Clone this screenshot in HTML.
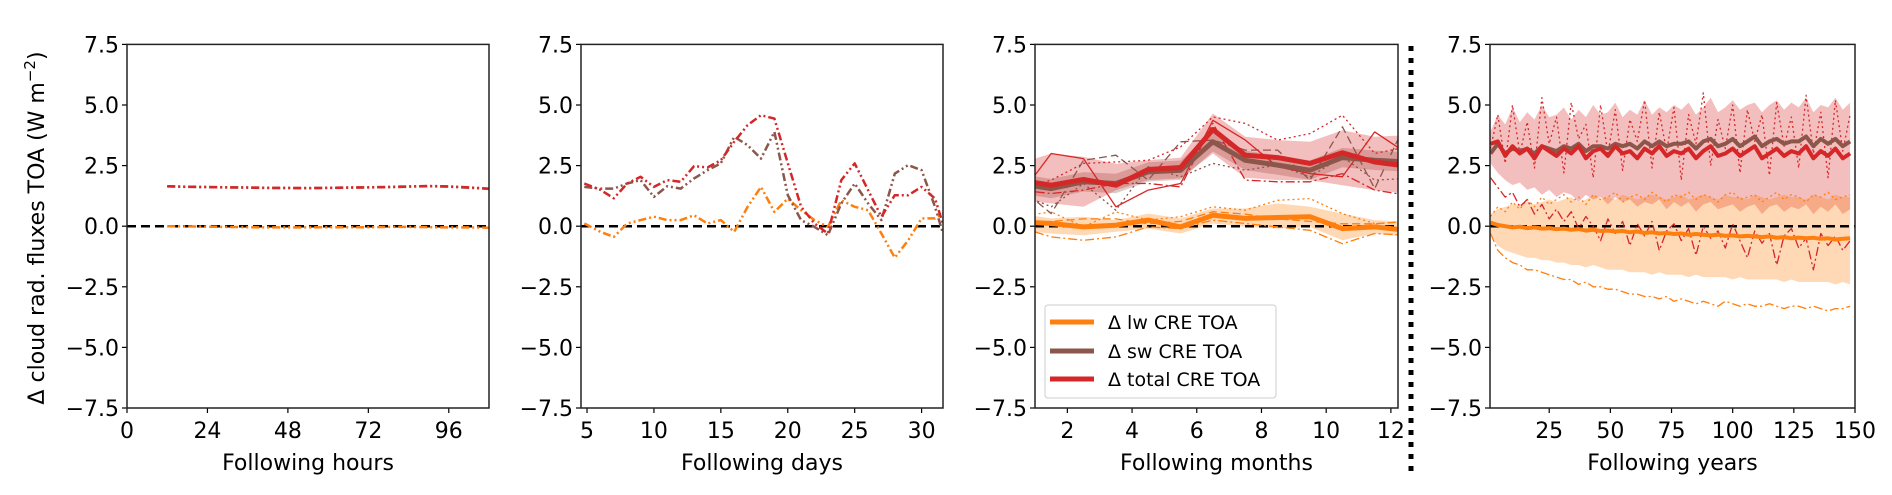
<!DOCTYPE html>
<html><head><meta charset="utf-8"><style>
html,body{margin:0;padding:0;background:#fff;}
svg{display:block;font-family:"DejaVu Sans","Liberation Sans",sans-serif;}
</style></head><body>
<svg id="fig" width="1892" height="495" viewBox="0 0 1892 495" xmlns="http://www.w3.org/2000/svg">
<text x="0" y="0" transform="translate(44,228) rotate(-90)" text-anchor="middle" font-size="22" fill="#000">Δ cloud rad. fluxes TOA (W m<tspan dy="-9" font-size="15">−2</tspan><tspan dy="9">)</tspan></text>
<line x1="1411" y1="46" x2="1411" y2="472" stroke="#000" stroke-width="5" stroke-dasharray="5,7"/>
</svg>
<script>
// ---------- DATA ----------
const hoursX=[12,18,24,30,36,42,48,54,60,66,72,78,84,90,96,102,108];
const hoursTotal=[1.65,1.63,1.62,1.6,1.6,1.58,1.58,1.57,1.58,1.6,1.6,1.62,1.64,1.66,1.64,1.6,1.55];
const hoursSw=[1.64,1.62,1.61,1.6,1.59,1.58,1.57,1.57,1.58,1.59,1.6,1.61,1.63,1.65,1.63,1.59,1.54];
const hoursLw=[0,-0.01,-0.02,-0.03,-0.04,-0.05,-0.05,-0.05,-0.04,-0.04,-0.04,-0.03,-0.03,-0.04,-0.05,-0.05,-0.06];

const daysX=[4.8,6,7,8,9,10,11,12,13,14,15,16,17,18,19,20,21,22,23,24,25,26,27,28,29,30,31,31.6];
const daysTotal=[1.76,1.5,1.15,1.76,2.04,1.62,1.9,1.83,2.48,2.42,2.72,3.48,4.17,4.58,4.44,2.6,0.8,0.11,-0.3,1.9,2.59,1.49,0.39,1.28,1.28,1.62,1.14,0.1];
const daysSw=[1.62,1.55,1.55,1.76,1.9,1.21,1.65,1.55,1.97,2.31,2.59,3.69,3.34,2.79,3.89,1.28,0.25,-0.03,-0.37,0.94,1.76,0.94,0.25,2.17,2.52,2.31,0.8,-0.3];
const daysLw=[0.11,-0.23,-0.44,0.11,0.25,0.39,0.25,0.25,0.45,0.11,0.25,-0.23,0.8,1.62,0.59,1.14,0.66,0.25,-0.03,1.07,0.8,0.66,-0.3,-1.3,-0.58,0.32,0.32,0.52];

const monthsX=[0.5,1.5,2.5,3.5,4.5,5.5,6.5,7.5,8.5,9.5,10.5,11.5,12.5];
const monthsTotal=[1.9,1.69,1.93,1.69,2.34,2.42,3.99,2.93,2.83,2.59,3.03,2.65,2.48];
const monthsTotalHi=[2.58,3.0,2.86,2.58,2.72,2.83,4.65,3.69,3.55,3.48,3.96,3.69,3.76];
const monthsTotalLo=[1.07,0.94,0.8,1.48,1.9,1.97,3.0,2.0,1.9,1.9,1.69,1.48,1.35];
const monthsSw=[1.76,1.55,1.83,1.76,2.24,2.31,3.48,2.72,2.52,2.31,2.83,2.72,2.65];
const monthsSwHi=[2.16,1.95,2.23,2.16,2.64,2.71,3.88,3.12,2.92,2.71,3.23,3.12,3.05];
const monthsSwLo=[1.36,1.15,1.43,1.36,1.84,1.91,3.08,2.32,2.12,1.91,2.43,2.32,2.25];
const monthsLw=[0.18,0.11,-0.03,0.04,0.25,-0.03,0.45,0.32,0.36,0.39,-0.1,-0.03,-0.17];
const monthsLwHi=[0.52,0.32,0.39,0.25,0.52,0.32,0.73,0.73,0.94,0.8,0.52,0.25,0.18];
const monthsLwLo=[-0.17,-0.3,-0.37,-0.23,-0.1,-0.3,0.11,-0.03,-0.1,-0.03,-0.58,-0.3,-0.44];
const monthsTotalM1=[1.49,1.9,2.59,2.65,2.72,3.27,4.51,4.24,3.55,3.82,4.58,3.0,3.27];
const monthsTotalM2=[1.21,3.0,2.79,0.8,1.49,1.76,4.37,3.55,2.45,2.17,2.04,3.89,3.0];
const monthsTotalM3=[1.49,1.35,1.49,1.76,1.76,1.62,4.24,1.9,1.83,1.83,2.17,1.49,1.28];
const monthsSwM1=[1.62,0.52,2.72,2.93,1.9,3.48,3.55,3.14,3.14,1.9,4.1,1.55,4.37];
const monthsSwM2=[1.35,0.8,1.76,0.66,2.45,2.04,2.59,2.31,2.52,2.04,2.86,1.9,1.97];
const monthsLwM1=[0.39,0.59,-0.03,0.59,0.25,0.39,0.8,0.66,1.07,1.14,0.52,0.11,0.18];
const monthsLwM2=[-0.03,-0.44,-0.58,-0.44,-0.03,-0.1,0.25,0.11,-0.03,-0.17,-0.72,-0.3,-0.37];
const monthsLwM3=[0.1,0.2,0.3,0.3,0.1,0.2,0.6,0.5,0.3,0.2,0.1,0.1,0.2];

const yearsX=[1,4,7,10,13,16,19,22,25,28,31,34,37,40,43,46,49,52,55,58,61,64,67,70,73,76,79,82,85,88,91,94,97,100,103,106,109,112,115,118,121,124,127,130,133,136,139,142,145,148];
const yearsTotal=[3.4,3.5,2.9,3.3,3.0,3.2,2.8,3.3,3.1,2.9,3.2,3.0,3.3,2.8,3.1,3.2,2.9,3.3,3.0,3.1,2.8,3.2,3.0,3.3,2.9,3.1,3.0,3.2,2.8,3.1,3.3,2.9,3.0,3.2,2.9,3.1,3.3,2.8,3.0,3.2,2.9,3.1,3.0,3.3,2.8,3.1,2.9,3.2,2.8,3.0];
const yearsSw=[3.0,3.4,3.0,3.2,3.1,3.2,3.0,3.3,3.2,3.1,3.3,3.2,3.4,3.1,3.3,3.3,3.2,3.4,3.3,3.4,3.2,3.5,3.3,3.5,3.3,3.4,3.4,3.5,3.2,3.5,3.6,3.3,3.4,3.6,3.3,3.5,3.7,3.3,3.5,3.6,3.4,3.5,3.5,3.7,3.3,3.6,3.4,3.6,3.3,3.5];
const yearsTotalHi=[3.9,4.6,4.2,4.9,4.3,4.7,4.4,5.0,4.5,4.6,4.9,4.4,4.8,4.5,5.0,4.6,4.7,5.1,4.5,4.8,4.6,5.2,4.6,4.9,4.7,5.0,4.8,5.1,4.6,4.9,5.3,4.7,4.9,5.2,4.8,5.0,5.1,4.7,5.0,5.2,4.8,5.1,4.9,5.3,4.7,5.0,4.9,5.3,4.8,5.1];
const yearsTotalLo=[2.6,2.2,1.9,1.7,1.8,1.5,1.6,1.3,1.5,1.2,1.4,1.3,1.0,1.3,1.1,1.2,0.9,1.2,1.0,1.1,0.8,1.0,0.9,1.1,0.7,1.0,0.8,1.0,0.6,0.9,1.0,0.7,0.8,0.9,0.6,0.8,0.9,0.5,0.8,0.9,0.6,0.8,0.7,0.9,0.5,0.8,0.6,0.9,0.5,0.7];
const yearsLw=[0.15,0.05,0.0,-0.05,-0.02,-0.08,-0.05,-0.1,-0.08,-0.12,-0.1,-0.15,-0.12,-0.18,-0.15,-0.2,-0.18,-0.22,-0.2,-0.25,-0.22,-0.28,-0.25,-0.3,-0.28,-0.32,-0.3,-0.35,-0.32,-0.35,-0.38,-0.35,-0.4,-0.38,-0.42,-0.4,-0.42,-0.45,-0.42,-0.48,-0.45,-0.5,-0.47,-0.5,-0.48,-0.52,-0.5,-0.55,-0.52,-0.5];
const yearsLwHi=[0.5,0.7,0.8,0.9,0.9,1.0,0.9,1.0,1.1,1.0,1.1,1.2,1.0,1.1,1.3,1.1,1.2,1.1,1.3,1.2,1.1,1.2,1.3,1.2,1.1,1.2,1.3,1.1,1.2,1.3,1.2,1.1,1.3,1.2,1.2,1.1,1.3,1.2,1.1,1.2,1.3,1.2,1.2,1.1,1.3,1.2,1.1,1.3,1.2,1.2];
const yearsLwLo=[-0.4,-0.8,-1.0,-1.1,-1.2,-1.3,-1.3,-1.4,-1.4,-1.5,-1.5,-1.6,-1.6,-1.7,-1.6,-1.7,-1.8,-1.8,-1.8,-1.9,-1.9,-1.9,-2.0,-1.9,-2.0,-2.0,-2.0,-2.1,-2.0,-2.1,-2.1,-2.1,-2.1,-2.2,-2.1,-2.2,-2.2,-2.2,-2.2,-2.2,-2.3,-2.2,-2.3,-2.3,-2.3,-2.3,-2.3,-2.4,-2.3,-2.4];
const yearsLwMinMember=[-0.3,-1.0,-1.3,-1.5,-1.6,-1.8,-1.8,-1.9,-2.0,-2.1,-2.2,-2.2,-2.4,-2.3,-2.5,-2.5,-2.6,-2.6,-2.7,-2.8,-2.8,-2.9,-2.9,-3.0,-2.9,-3.1,-3.0,-3.1,-3.2,-3.1,-3.2,-3.3,-3.1,-3.2,-3.3,-3.2,-3.3,-3.3,-3.2,-3.3,-3.4,-3.3,-3.3,-3.4,-3.3,-3.4,-3.5,-3.4,-3.4,-3.3];
const yearsLwMaxMember=[0.4,0.8,0.6,1.0,0.7,1.1,0.8,1.2,0.9,1.1,1.3,1.0,1.2,0.9,1.3,1.1,1.2,1.4,1.0,1.2,1.3,1.1,1.4,1.2,1.0,1.3,1.2,1.4,1.1,1.3,1.2,1.0,1.3,1.4,1.1,1.2,1.3,1.0,1.2,1.4,1.1,1.3,1.2,1.0,1.3,1.2,1.4,1.1,1.2,1.3];
const yearsTotalDownMember=[2.0,1.6,1.2,1.4,0.8,1.1,0.5,0.9,0.3,0.7,0.2,0.6,-0.1,0.4,0.0,-0.6,0.3,-0.3,0.2,-0.8,0.1,-0.4,0.2,-1.0,-0.2,0.1,-0.6,-0.1,-1.2,0.0,-0.5,-0.2,-0.9,0.1,-0.6,-1.3,-0.2,-0.7,-0.3,-1.6,-0.4,-0.1,-0.9,-0.5,-1.8,-0.3,-0.8,-0.4,-1.0,-0.6];
const yearsSpikyMember=[3.2,4.6,2.6,5.0,3.0,4.3,2.4,5.3,3.4,4.5,2.2,5.1,3.6,4.2,2.0,5.0,3.0,4.8,2.3,4.4,3.5,5.2,2.4,4.7,3.1,4.9,1.9,4.6,3.4,5.5,2.5,4.4,3.2,5.0,2.2,4.8,3.5,4.6,2.1,5.1,3.3,4.5,2.4,5.4,3.0,4.7,2.0,5.2,3.1,4.6];

// ---------- RENDER ----------
const NS='http://www.w3.org/2000/svg';
const svg=document.getElementById('fig');
const Y0=226.2, YS=24.24;
function yScale(v){return Y0-v*YS;}
function el(tag,attrs,parent){const e=document.createElementNS(NS,tag);for(const k in attrs)e.setAttribute(k,attrs[k]);(parent||svg).appendChild(e);return e;}

const C={lw:'#ff7f0e',sw:'#8c564b',tot:'#d62728'};
const DD={dashdot:'9,3,2,3',dashdotdot:'8,3,2,3,2,3',dotted:'2,3',dashed:'8,4',solid:'none'};

function makePanel(id,left,right,xmin,xmax,xticks,xlabel){
  const g=el('g',{});
  
  
  const xs=v=>left+(v-xmin)/(xmax-xmin)*(right-left);
  const clipId='clip-'+id;
  const cp=el('clipPath',{id:clipId},g);
  el('rect',{x:left,y:44.4,width:right-left,height:408-44.4},cp);
  const plot=el('g',{'clip-path':'url(#'+clipId+')'},g);
  
  
  // y ticks
  const yt=[-7.5,-5,-2.5,0,2.5,5,7.5];
  yt.forEach(v=>{
    const y=yScale(v);
    const t=el('line',{x1:left-5,x2:left,y1:y,y2:y,stroke:'#000','stroke-width':1.2},g);
    
    
    const tx=el('text',{x:left-8,y:y+8,'text-anchor':'end','font-size':22},g);
    tx.textContent=(v<0?'−':'')+Math.abs(v).toFixed(1);
    
    
  });
  xticks.forEach(v=>{
    const x=xs(v);
    const t=el('line',{x1:x,x2:x,y1:408,y2:413,stroke:'#000','stroke-width':1.2},g);
    
    
    const tx=el('text',{x:x,y:438,'text-anchor':'middle','font-size':22},g);
    tx.textContent=String(v);
    
    
  });
  const xl=el('text',{x:(left+right)/2,y:470,'text-anchor':'middle','font-size':22},g);
  xl.textContent=xlabel;
  
  
  return {g,plot,xs,left,right};
}
function frame(p){
  const r=el('rect',{x:p.left,y:44.4,width:p.right-p.left,height:408-44.4,fill:'none',stroke:'#222','stroke-width':1.5},p.g);
  
  
}
function line(p,xsArr,ys,color,w,style,name,opacity){
  const d=xsArr.map((x,i)=>(i?'L':'M')+p.xs(x).toFixed(1)+','+yScale(ys[i]).toFixed(1)).join('');
  const e=el('path',{d:d,fill:'none',stroke:color,'stroke-width':w,'stroke-linejoin':'round','stroke-dasharray':DD[style],opacity:opacity||1},p.plot);
  
  
}
function band(p,xsArr,lo,hi,color,op,name){
  let d=xsArr.map((x,i)=>(i?'L':'M')+p.xs(x).toFixed(1)+','+yScale(hi[i]).toFixed(1)).join('');
  for(let i=xsArr.length-1;i>=0;i--)d+='L'+p.xs(xsArr[i]).toFixed(1)+','+yScale(lo[i]).toFixed(1);
  const e=el('path',{d:d+'Z',fill:color,'fill-opacity':op,stroke:'none'},p.plot);
  
  
}
function zero(p){
  const e=el('line',{x1:p.left,x2:p.right,y1:yScale(0),y2:yScale(0),stroke:'#000','stroke-width':2.5,'stroke-dasharray':'9,5'},p.plot);
  
  
}

// Panel 1: hours
const p1=makePanel('hours',127,489,0,108,[0,24,48,72,96],'Following hours');
zero(p1);
line(p1,hoursX,hoursLw,C.lw,2.5,'dashdotdot','lw-hours-line');
line(p1,hoursX,hoursSw,C.sw,2.5,'dashdotdot','sw-hours-line');
line(p1,hoursX,hoursTotal,C.tot,2.5,'dashdotdot','total-hours-line');
frame(p1);

// Panel 2: days
const p2=makePanel('days',581,943,4.55,31.6,[5,10,15,20,25,30],'Following days');
zero(p2);
line(p2,daysX,daysLw,C.lw,2.5,'dashdotdot','lw-days-line');
line(p2,daysX,daysSw,C.sw,2.5,'dashdotdot','sw-days-line');
line(p2,daysX,daysTotal,C.tot,2.5,'dashdotdot','total-days-line');
frame(p2);

// Panel 3: months
const p3=makePanel('months',1035,1398,1.0,12.22,[2,4,6,8,10,12],'Following months');
band(p3,monthsX,monthsLwLo,monthsLwHi,C.lw,0.3,'lw-months-band');
band(p3,monthsX,monthsSwLo,monthsSwHi,C.sw,0.3,'sw-months-band');
band(p3,monthsX,monthsTotalLo,monthsTotalHi,C.tot,0.3,'total-months-band');
zero(p3);
line(p3,monthsX,monthsLwM1,C.lw,1.3,'dotted','lw-months-member');
line(p3,monthsX,monthsLwM2,C.lw,1.3,'dashdot','lw-months-member');
line(p3,monthsX,monthsLwM3,C.lw,1.3,'dashed','lw-months-member');
line(p3,monthsX,monthsSwM1,C.sw,1.3,'dashed','sw-months-member');
line(p3,monthsX,monthsSwM2,C.sw,1.3,'dotted','sw-months-member');
line(p3,monthsX,monthsTotalM1,C.tot,1.3,'dotted','total-months-member');
line(p3,monthsX,monthsTotalM2,C.tot,1.3,'solid','total-months-member');
line(p3,monthsX,monthsTotalM3,C.tot,1.3,'dashdot','total-months-member');
line(p3,monthsX,monthsLw,C.lw,5,'solid','lw-months-mean');
line(p3,monthsX,monthsSw,C.sw,5,'solid','sw-months-mean');
line(p3,monthsX,monthsTotal,C.tot,5,'solid','total-months-mean');
frame(p3);
// legend
const lg=el('g',{},p3.g);


el('rect',{x:1045,y:305,width:231,height:93,rx:3,fill:'#fff','fill-opacity':0.85,stroke:'#ccc','stroke-width':1},lg);
[['Δ lw CRE TOA',C.lw,322],['Δ sw CRE TOA',C.sw,351],['Δ total CRE TOA',C.tot,379]].forEach(r=>{
  const en=el('g',{},lg);
  
  
  el('line',{x1:1050,x2:1094,y1:r[2],y2:r[2],stroke:r[1],'stroke-width':5},en);
  const t=el('text',{x:1108,y:r[2]+7,'font-size':19},en);
  t.textContent=r[0];
});

// Panel 4: years
const p4=makePanel('years',1490,1855,0.8,150,[25,50,75,100,125,150],'Following years');
band(p4,yearsX,yearsTotalLo,yearsTotalHi,C.tot,0.3,'total-years-band');
band(p4,yearsX,yearsLwLo,yearsLwHi,C.lw,0.3,'lw-years-band');
zero(p4);
line(p4,yearsX,yearsLwMinMember,C.lw,1.3,'dashdot','lw-years-member');
line(p4,yearsX,yearsLwMaxMember,C.lw,1.3,'dotted','lw-years-member');
line(p4,yearsX,yearsSpikyMember,C.tot,1.3,'dotted','total-years-member');
line(p4,yearsX,yearsTotalDownMember,C.tot,1.3,'dashdot','total-years-member');
line(p4,yearsX,yearsLw,C.lw,4,'solid','lw-years-mean');
line(p4,yearsX,yearsSw,C.sw,4,'solid','sw-years-mean');
line(p4,yearsX,yearsTotal,C.tot,4,'solid','total-years-mean');
frame(p4);
</script>
</body></html>
